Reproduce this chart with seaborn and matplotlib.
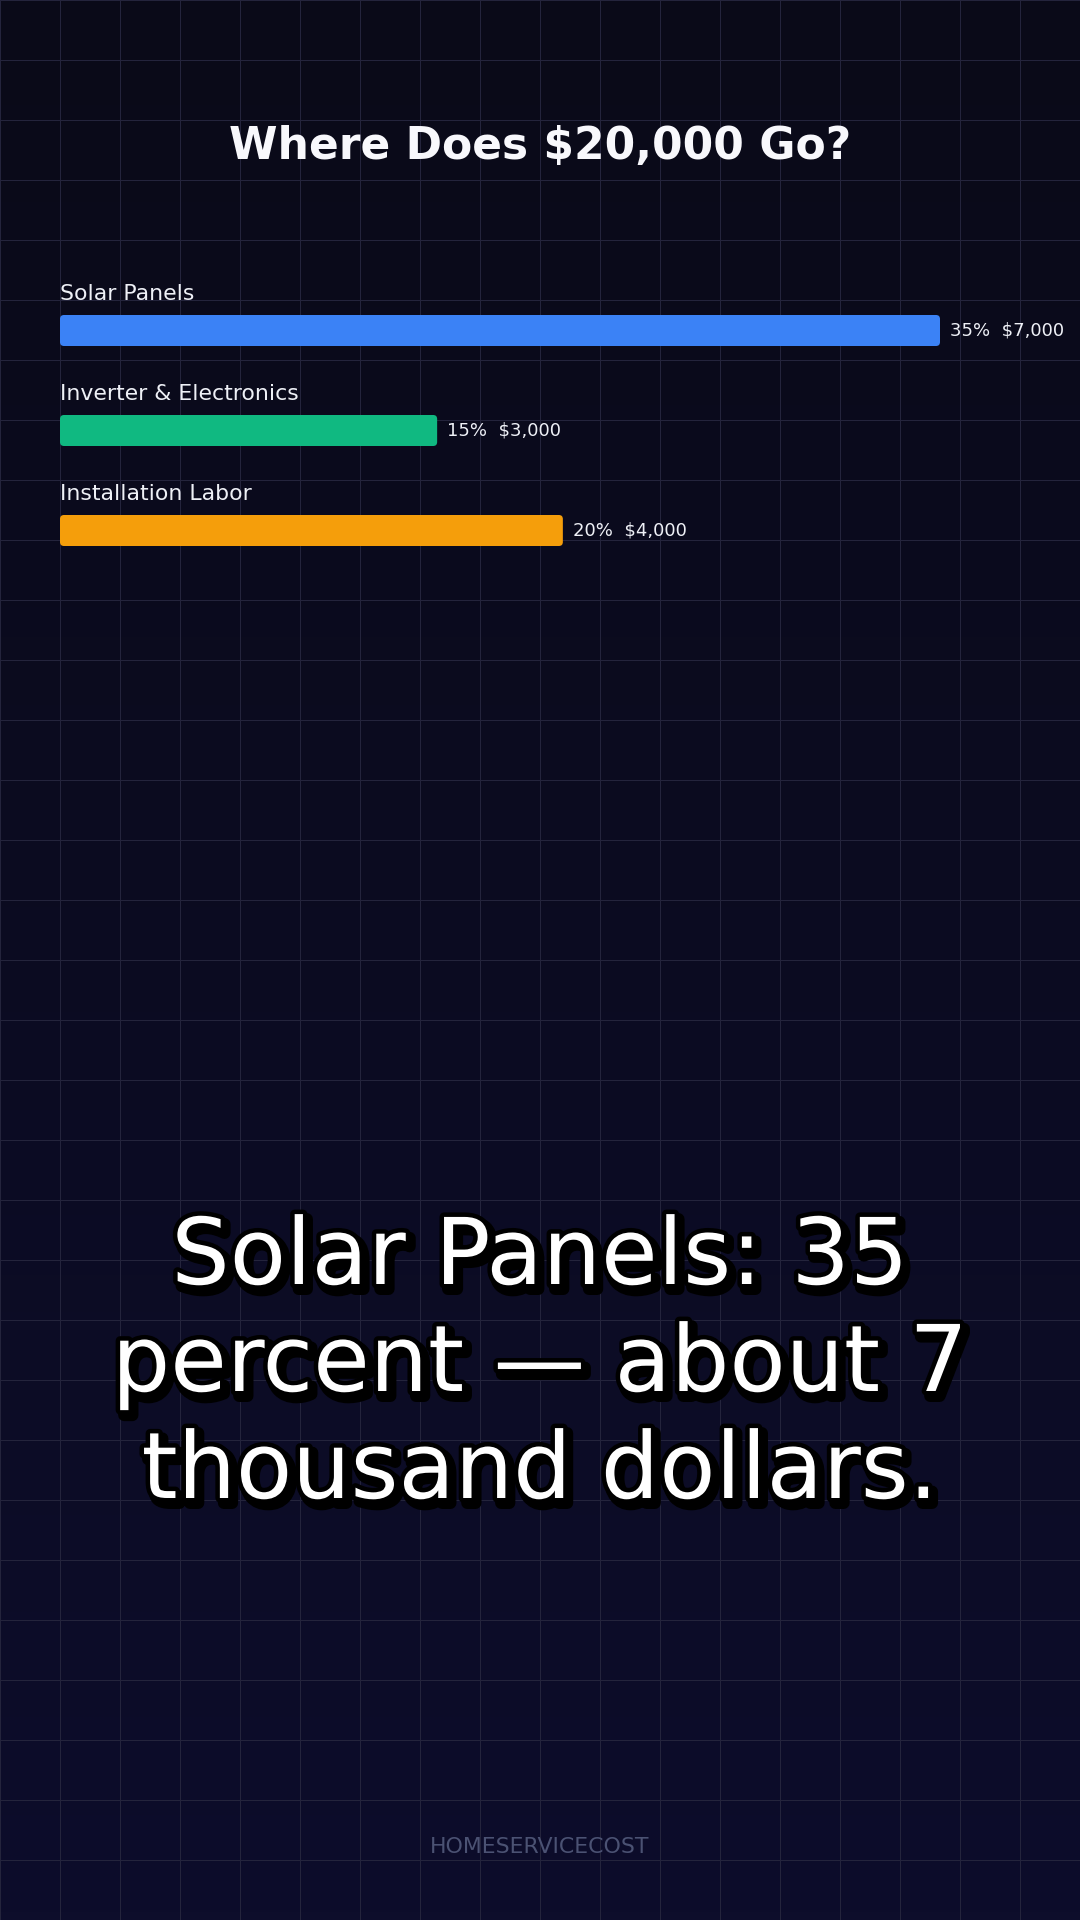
import numpy as np
import matplotlib
matplotlib.use("Agg")
import matplotlib.pyplot as plt
import matplotlib.patheffects as pe
from matplotlib.patches import FancyBboxPatch
import seaborn as sns

# data
categories = ["Solar Panels", "Inverter & Electronics", "Installation Labor"]
shares = [35, 15, 20]
amounts = [7000, 3000, 4000]
bar_colors = ["#3b82f6", "#10b981", "#f59e0b"]

title = "Where Does $20,000 Go?"
caption = "Solar Panels: 35\npercent \u2014 about 7\nthousand dollars."
footer = "HOMESERVICECOST"

W, H, DPI = 1080, 1920, 100
PT = 72 / DPI  # px -> pt

sns.set_theme(style="white")
plt.rcParams["font.family"] = ["DejaVu Sans"]

fig = plt.figure(figsize=(W / DPI, H / DPI), dpi=DPI)

# background gradient + grid
bg = fig.add_axes([0, 0, 1, 1], zorder=0)
grad = np.linspace(0, 1, 256).reshape(-1, 1)
top = np.array([10, 10, 24]) / 255
bot = np.array([13, 13, 43]) / 255
img = top + (bot - top) * grad[..., None]
bg.imshow(img, extent=(0, W, H, 0), aspect="auto")
for gx in range(0, W + 1, 60):
    bg.axvline(gx, color="#24243c", lw=1 * PT)
for gy in range(0, H + 1, 60):
    bg.axhline(gy, color="#24243c", lw=1 * PT)
bg.set_xlim(0, W)
bg.set_ylim(H, 0)
bg.axis("off")

# bar axes spanning the whole figure, scaled so 0 sits at x=60px and the max at x=940px
left_px, max_px = 60, 880
k = max_px / max(shares)          # px per percent
center0, row_gap, bar_h = 330.5, 100, 31
ax = fig.add_axes([0, 0, 1, 1], zorder=1)
ax.patch.set_alpha(0)
sns.barplot(x=shares, y=categories, hue=categories, palette=bar_colors,
            orient="h", width=bar_h / row_gap, legend=False, ax=ax,
            saturation=1)
ax.set_xlim(-left_px / k, (W - left_px) / k)
ax.set_ylim((H - center0) / row_gap, -center0 / row_gap)
ax.axis("off")

# rounded bar ends
r = 4 / k
for bar in list(ax.patches):
    fb = FancyBboxPatch((bar.get_x(), bar.get_y()), bar.get_width(), bar.get_height(),
                        boxstyle=f"round,pad=0,rounding_size={r}",
                        mutation_aspect=k / row_gap,
                        fc=bar.get_facecolor(), ec="none")
    bar.set_visible(False)
    ax.add_patch(fb)

for i, (cat, p, amt) in enumerate(zip(categories, shares, amounts)):
    ax.text(0, i - 30.5 / row_gap, cat, color="#eef0f6", fontsize=22 * PT,
            ha="left", va="baseline")
    ax.text(p + 10 / k, i, f"{p}%  ${amt:,}", color="#eef0f6",
            fontsize=18 * PT, ha="left", va="center")

# title
fig.text(0.5, 1 - 159 / H, title, color="#f8f8fc", fontsize=44 * PT,
         fontweight="bold", ha="center", va="baseline")

# caption with black outline and drop shadow
effects = [pe.Stroke(linewidth=12 * PT, foreground="black", offset=(4 * PT, -5 * PT)),
           pe.Stroke(linewidth=9 * PT, foreground="black"),
           pe.Normal()]
for j, line in enumerate(caption.split("\n")):
    fig.text(0.5, 1 - (1284 + 107 * j) / H, line, color="white",
             fontsize=92 * PT, ha="center", va="baseline", path_effects=effects)

# footer
fig.text(0.5, 1 - 1853 / H, footer, color="#4b5273", fontsize=22 * PT,
         ha="center", va="baseline")

fig.savefig("out.png", dpi=DPI)
